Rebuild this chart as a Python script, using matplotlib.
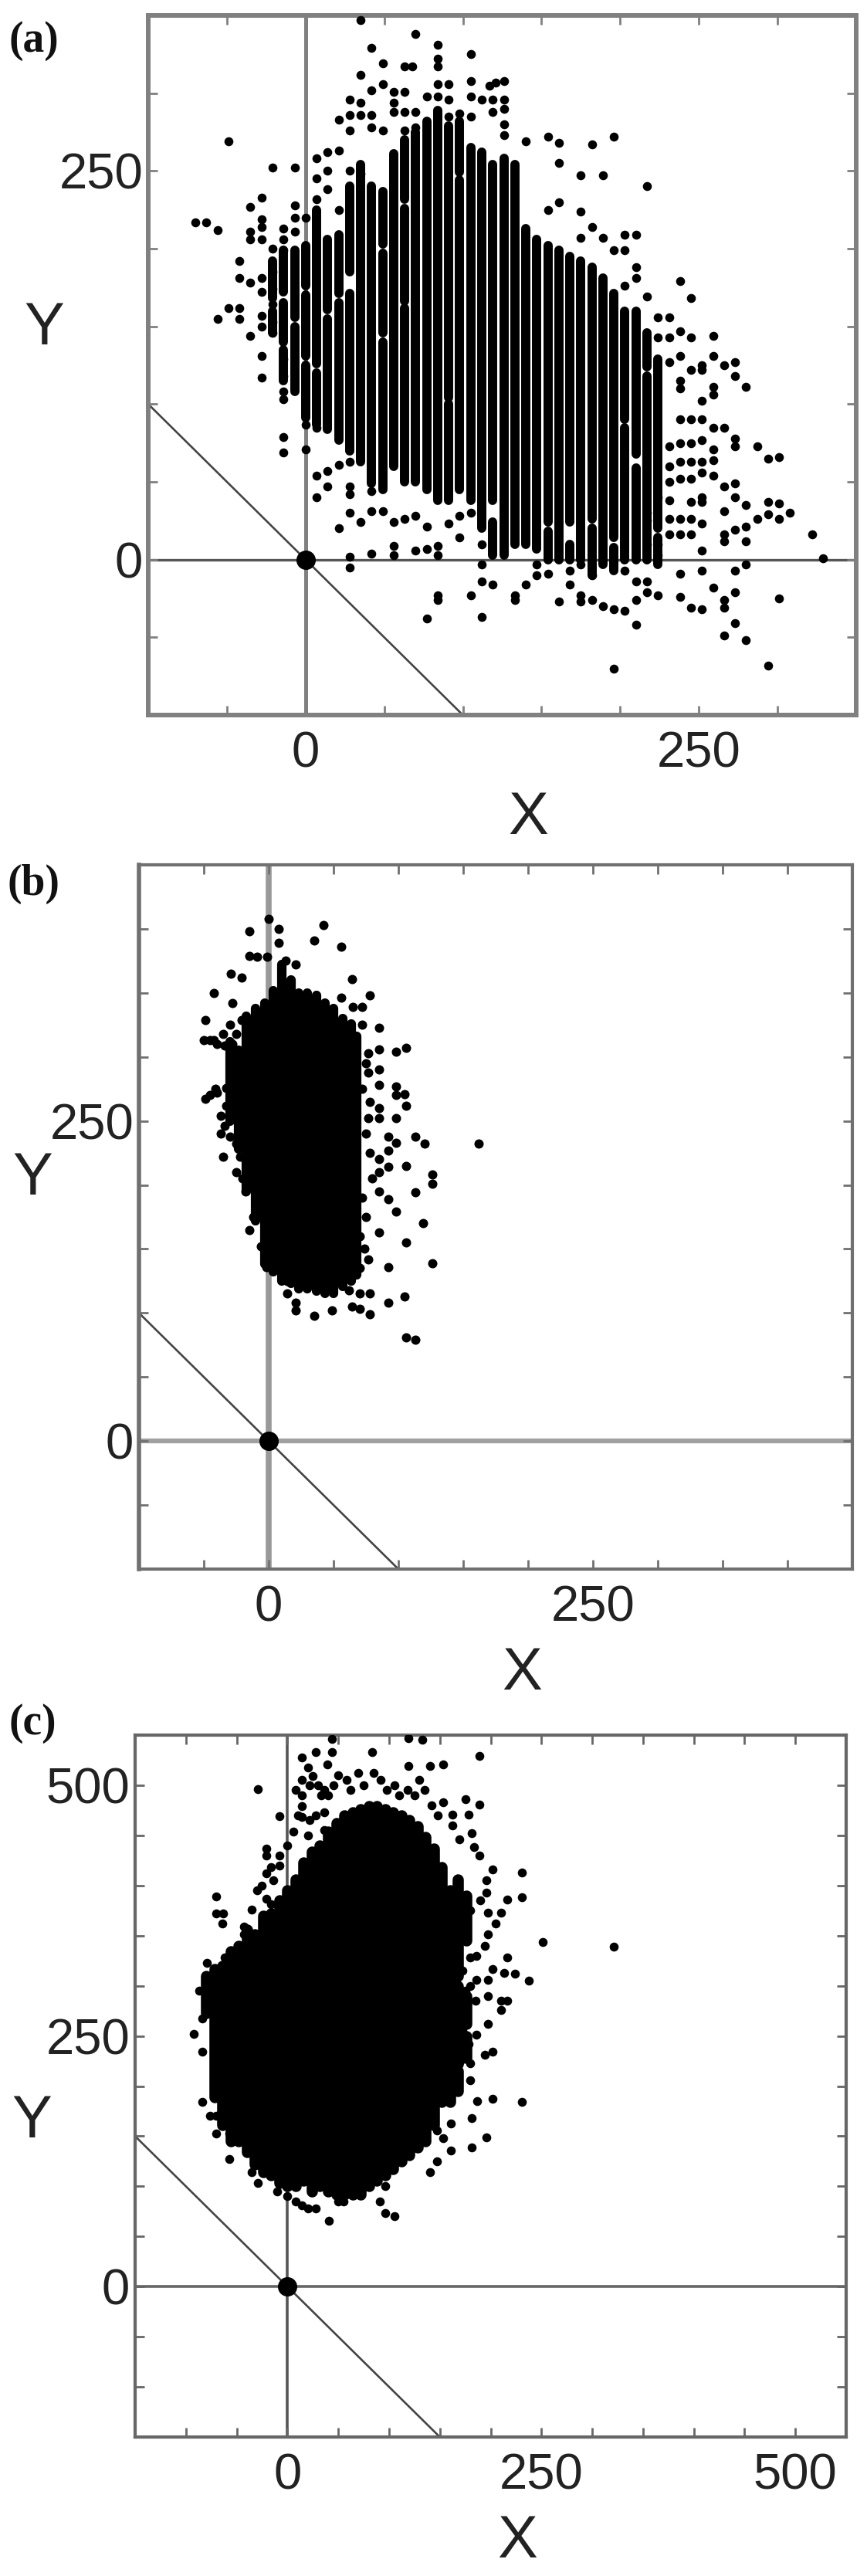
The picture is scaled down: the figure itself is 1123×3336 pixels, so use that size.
import matplotlib
matplotlib.use("Agg")
import matplotlib.pyplot as plt

W, H = 1123, 3336
plt.rcParams["font.family"] = ["Liberation Sans", "DejaVu Sans"]

# panel a : scattered points
a_pts = [(35,347),(70,338),(42,329),(84,331),(84,322),(105,325),(49,319),(63,317),(68,317),(84,317),(35,312),(105,308),(121,307),(126,308),(117,305),
(49,306),(42,302),(56,301),(63,301),(84,306),(91,306),(84,298),(28,296),(35,294),(56,294),(77,298),(91,296),(105,298),(112,296),(119,296),(126,296),(126,290),(119,288),
(21,283),(28,286),(35,286),(42,286),(56,288),(63,288),(70,288),(91,285),(98,287),(105,285),(126,280),(126,273),(28,276),(42,278),(49,276),(63,276),(70,278),
(-49,269),(-70,217),(-63,217),(-56,212),(-21,252),(-7,252),(7,258),(14,262),(21,263),(14,250),(7,245),(7,232),(14,238),(21,225),(28,250),(35,248),
(-35,227),(-28,233),(-28,219),(-28,214),(-35,211),(-35,206),(-28,206),(-42,192),(-42,181),(-35,178),(-28,181),(-28,172),(-56,155),(-49,162),(-42,162),(-42,155),(-35,144),
(-28,157),(-28,150),(-28,131),(-28,117),(-21,200),(-21,185),(-21,174),(-21,164),(-21,153),(-21,146),(-14,213),(-14,206),(-14,199),(-7,228),(-7,220),(-7,211),(0,220),
(-14,129),(-14,118),(-14,108),(-14,103),(-14,79),(-14,69),(0,71),(0,87),(7,85),
(7,54),(7,40),(14,57),(14,47),(21,61),(21,20),(28,63),(28,47),(28,42),(28,30),(35,24),(28,2),(28,-5),(42,4),(56,9),(56,3),(70,6),(77,7),(84,9),(84,3),(56,24),(63,26),(70,28),(77,21),(42,44),(42,31),(49,31),
(91,23),(98,14),(98,28),(105,30),(112,10),
(84,-23),(84,-26),(105,-23),(77,-38),(112,-37),(112,-3),(112,-14),(119,-16),(133,-23),(133,-26),(140,-16),(147,-3),(147,-10),(154,-9),(161,-27),(168,-7),(168,-16),(175,-3),(175,-23),(175,-27),(182,-10),(182,-26),
(189,-30),(196,-32),(203,-33),(203,-7),(210,-42),(210,-26),(210,-14),(217,-14),(217,-21),(224,-23),(238,-9),(238,-24),(245,-31),(252,-32),(252,-7),(259,-18),(266,-26),(266,-31),(273,-7),(273,-21),(273,-41),(280,-3),(266,-49),(280,-52),(301,-25),(294,-68),(196,-70),
(238,179),(245,168),(217,169),(217,240),(196,272),(182,267),(161,268),(154,272),(140,269),(175,247),(189,247),(161,255),(175,224),(161,230),(154,225),(182,214),(175,207),(189,207),(203,209),(210,209),(203,199),(196,199),(210,188),(210,181),(203,176),
(231,156),(224,156),(238,147),(245,143),(231,143),(224,143),(259,144),(259,131),(273,127),(266,125),(273,118),(280,111),(238,131),(231,127),(245,122),(252,122),(252,125),(238,115),(238,110),(259,111),(259,106),(252,102),(238,90),(245,90),(252,90),(259,85),(266,85),(273,78),(273,73),(287,73),(294,65),(301,66),
(238,75),(245,75),(252,77),(259,71),(259,64),(252,63),(245,63),(238,63),(231,73),(238,52),(245,52),(252,56),(259,54),(266,47),(273,49),(273,40),(252,40),(245,37),(252,37),(266,31),(280,35),(294,37),(301,36),(308,30),(301,26),(294,29),(287,26),(280,21),(273,19),(266,16),(266,12),(280,12),(322,16),(329,1),(252,6),(245,16),(238,16),(231,16),(231,26),(238,26),(245,26),(252,23),(231,38),(224,10),(224,3),(217,10),
(231,60),(231,50),(224,40),(217,30),(217,25)]
a_x = [p[0] for p in a_pts]
a_y = [p[1] for p in a_pts]

# panel a : columns where the dots merge, as (x, y from, y to), split where the cloud shows a gap
a_spans = [(-21,146,160),(-21,168,192),(-14,115,135),(-14,140,165),(-14,172,199),(-7,108,150),(-7,156,199),(0,91,125),(0,131,170),(0,176,202),
(7,87,120),(7,126,225),(14,84,155),(14,161,206),(21,77,165),(21,171,209),(28,70,171),(28,185,240),(35,63,254),(42,49,240),
(49,45,140),(49,146,197),(49,203,237),(56,60,261),(63,50,162),(63,166,226),(63,232,270),(70,50,275),(77,45,282),(84,38,289),
(91,38,100),(91,104,279),(98,45,244),(98,249,282),(105,38,265),(112,20,262),(119,38,254),(119,3,24),(126,3,258),(133,10,254),
(140,10,213),(147,7,206),(154,24,202),(154,0,18),(161,0,199),(168,0,10),(168,24,195),(175,0,192),(182,-10,20),(182,26,188),
(189,-3,181),(196,14,171),(196,-7,8),(203,0,85),(203,90,160),(210,0,59),(210,68,160),(217,0,118),(217,124,146),(224,20,129),(224,-3,14)]
a_col_x = [s[0] for s in a_spans]
a_col_lo = [s[1] for s in a_spans]
a_col_hi = [s[2] for s in a_spans]

# panel b
b_pts = [(0,408),(7.5,400),(7.5,389),(-15,398),(42,403),(35,391),(56,386),(-15,379),(-9,378),(-1,378),(13,375),(21,372),(64,361),(-29,365),(-21,362),(-42,350),(-28,342),(56,346),(78,348),(65,339),(72,339),
(-49,329),(-21,329),(85,323),(72,325),(-50,313),(-42,313),(-35,318),(-34,309),(77,303),(85,306),(98,304),(106,307),(77,288),(85,290),(85,278),(98,277),(98,270),(105,271),(106,262),(-49,267),(-41,275),
(85,260),(85,252),(77,252),(98,252),(-37,254),(-34,246),(92,238),(98,233),(92,227),(113,238),(120,232),(162,232),(-35,222),(85,220),(85,210),(92,214),(106,215),(126,208),(126,201),(113,194),(85,195),(92,189),(98,179),(119,170),(-15,165),(85,163),(106,155),
(77,142),(126,139),(92,136),(105,113),(92,108),(70,115),(78,115),(64,105),(70,103),(78,99),(49,102),(35,98),(21,102),(21,108),(14,115),(106,81),(113,79),(-2,136),(6,136),(14,125),(22,125),
(-45,313),(-40,310),(-30,325),(-25,318),(-30,300),(-45,270),(-40,272),(-33,276),(-28,280),(-33,262),(-37,240),(-30,238),(-25,232),(-22,222),(-25,210),(-20,205),(-18,195),(-12,175),(-6,152),(-3,145),
(75,295),(72,275),(78,265),(75,240),(78,225),(80,205),(72,190),(75,175),(70,160),(74,150),(70,135),(62,118),(-28,310),(-30,290),(-24,298)]
b_x = [p[0] for p in b_pts]
b_y = [p[1] for p in b_pts]
b_col_x = [-30,-23,-17,-10,-3,3.5,10,17,23.5,30,37,43.5,50,57,63.5,68]
b_col_lo = [250,228,195,172,138,132,125,123,119,119,117,115,115,121,125,130]
b_col_hi = [312,305,332,338,342,352,372,360,350,350,348,342,338,330,326,316]

# panel c
c_pts = [(44,546),(119,547),(133,545),(189,529),(83,533),(14,528),(28,533),(44,533),(119,519),(140,519),(153,521),(-29,496),(20,518),(25,509),(39,521),(175,486),(189,481),(178,471),(153,483),
(-8,469),(14,490),(14,479),(14,468),(6,454),(22,465),(33,490),(36,473),(162,471),(162,460),(181,452),(184,438),(189,430),(169,446),(-21,437),(-21,430),(-8,430),(-16,418),(-21,412),
(202,416),(231,413),(196,405),(196,393),(-70,389),(231,388),(216,386),(-70,372),(-63,372),(-64,362),(-35,376),(-16,381),(-21,387),(210,373),(197,373),(205,362),(251,344),(321,339),(-43,359),(-43,351),
(197,351),(194,340),(180,328),(216,328),(202,317),(213,313),(224,312),(238,305),(-62,328),(-79,323),(-87,295),(-92,252),(-84,267),(-84,234),(197,306),(186,306),(197,290),(216,285),(210,276),(210,285),
(197,262),(186,251),(178,242),(202,234),(194,231),(180,223),(180,206),(164,195),(187,185),(202,187),(231,184),(-84,184),(-76,170),(-70,170),(-70,153),(-57,153),(181,168),(161,163),(196,149),(181,139),(161,136),
(147,156),(153,148),(147,125),(140,114),(-57,127),(-35,114),(-29,103),(14,81),(28,78),(20,78),(41,66),(50,85),(55,85),(91,85),(96,73),(105,70),(96,100),(0,90),(8,85),(-10,95),
(170,345),(172,315),(175,295),(168,270),(172,255),(160,240),(170,225),(185,285),(180,300),(186,330),(172,360),(180,375),(190,385),
(30,500),(36,495),(50,510),(58,505),(62,495),(70,512),(75,500),(85,512),(92,505),(98,495),(105,500),(110,490),(118,495),(125,490),(130,505),(135,495),(142,480),(148,470),(40,490),(45,500),(22,500),(14,505),(8,495),(10,470),(20,450),(28,470),(36,455),(0,440),(-8,420),(-14,405),(-25,400),(-30,395)]
c_x = [p[0] for p in c_pts]
c_y = [p[1] for p in c_pts]
c_spans = [(-80,273,310),(-72,189,317),(-64,161,320),(-56,145,334),(-48,145,340),(-40,134,356),(-32,122,351),(-24,114,370),(-16,111,372),(-8,103,385),
(0,100,395),(8,100,406),(16,106,423),(24,95,434),(32,100,440),(40,95,454),(48,92,462),(56,92,470),(64,92,473),(72,92,476),(80,100,479),(88,106,479),
(96,111,476),(104,117,473),(112,125,470),(120,131,465),(128,139,459),(136,145,345),(136,352,448),(144,161,270),(144,278,437),(152,184,300),(152,306,418),
(160,184,225),(160,232,395),(168,195,215),(168,222,255),(168,262,300),(168,310,345),(168,352,406),(176,228,250),(176,262,290),(176,345,390)]
c_col_x = [s[0] for s in c_spans]
c_col_lo = [s[1] for s in c_spans]
c_col_hi = [s[2] for s in c_spans]

fig = plt.figure(figsize=(W/100, H/100), dpi=100, facecolor="white")


def panel(box, lim, xlab, ylab, frame, cross_v, cross_h, diag):
    l, r, t, b = box
    ax = fig.add_axes([l/W, 1-b/H, (r-l)/W, (b-t)/H])
    ax.set_xlim(*lim)
    ax.set_ylim(*lim)
    ax.set_xticks(xlab)
    ax.set_yticks(ylab)
    ax.set_xticks(range(lim[0], lim[1]+1, 50), minor=True)
    ax.set_yticks(range(lim[0], lim[1]+1, 50), minor=True)
    color, lw = frame
    for s in ax.spines.values():
        s.set_color(color)
        s.set_linewidth(lw)
    ax.tick_params(which="both", direction="in", top=True, right=True, length=8.5, width=2, color=color)
    ax.tick_params(axis="x", which="major", labelsize=47, pad=15, labelcolor="#222222")
    ax.tick_params(axis="y", which="major", labelsize=47, pad=5, labelcolor="#222222")
    ax.axvline(0, color=cross_v[0], lw=cross_v[1], zorder=1)
    ax.axhline(0, color=cross_h[0], lw=cross_h[1], zorder=1)
    ax.plot([-diag, diag], [diag, -diag], color="#444444", lw=1.9, zorder=1)
    ax.plot([0], [0], "o", color="black", ms=17, zorder=4)
    return ax


ax = panel((192, 1109, 20, 926), (-100, 350), [0, 250], [0, 250], ("#808080", 4.3), ("#808080", 3.6), ("#555555", 2.4), 100)
ax.vlines(a_col_x, a_col_lo, a_col_hi, color="black", lw=8.6, capstyle="round", zorder=3)
ax.scatter(a_x, a_y, s=70, color="black", linewidths=0, zorder=3)

ax = panel((180, 1104, 1120, 2032), (-100, 450), [0, 250], [0, 250], ("#707070", 3), ("#999999", 5.5), ("#a0a0a0", 4.5), 100)
ax.spines["left"].set_linewidth(4)
ax.vlines(b_col_x, b_col_lo, b_col_hi, color="black", lw=8.8, capstyle="round", zorder=3)
ax.scatter(b_x, b_y, s=75, color="black", linewidths=0, zorder=3)

ax = panel((175, 1096, 2247, 3156), (-150, 550), [0, 250, 500], [0, 250, 500], ("#666666", 3), ("#555555", 2.6), ("#666666", 2.6), 150)
ax.vlines(c_col_x, c_col_lo, c_col_hi, color="black", lw=10.5, capstyle="round", zorder=3)
ax.scatter(c_x, c_y, s=70, color="black", linewidths=0, zorder=3)

# panel letters and axis names
for s, x, y in [("(a)", 12, 53), ("(b)", 10, 1145), ("(c)", 12, 2232)]:
    fig.text(x/W, 1-y/H, s, family="Liberation Serif", weight="bold", fontsize=40, va="center", color="#111111")
for s, x, y in [("Y", 57, 425), ("X", 684, 1060), ("Y", 42, 1527), ("X", 676, 2167), ("Y", 41, 2747), ("X", 670, 3291)]:
    fig.text(x/W, 1-y/H, s, fontsize=56, ha="center", va="center", color="#222222")

fig.savefig("out.png", dpi=100)
